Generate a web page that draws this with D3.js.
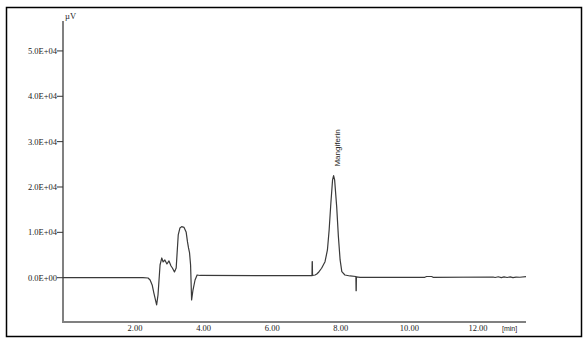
<!DOCTYPE html>
<html>
<head>
<meta charset="utf-8">
<script src="https://cdn.jsdelivr.net/npm/d3@7"></script>
<style>
  body { margin: 0; background: #fff; }
</style>
</head>
<body>
<div id="chart"></div>
<script>
// retention time (min) and detector signal (µV)
const times = [
  -0.1, 2.23, 2.38, 2.44, 2.50, 2.55, 2.63, 2.67, 2.73, 2.78, 2.82, 2.87, 2.93, 2.99,
  3.05, 3.09, 3.15, 3.20, 3.26, 3.31, 3.36, 3.43, 3.49, 3.53, 3.56, 3.59, 3.62, 3.65,
  3.69, 3.75, 3.81, 3.90, 7.16, 7.165, 7.17, 7.175, 7.25, 7.30, 7.36, 7.44, 7.54, 7.61,
  7.66, 7.71, 7.76, 7.79, 7.82, 7.88, 7.93, 7.98, 8.03, 8.12, 8.27, 8.44, 8.445, 8.45,
  8.455, 8.56, 10.45, 10.50, 10.65, 10.69, 12.44, 12.50, 12.59, 12.68, 12.76, 12.85,
  12.94, 13.02, 13.11, 13.22, 13.40
];
const signal = [
  0, 0, -70, -510, -1610, -3380, -6000, -3820, 2800, 4350, 3470, 3900, 3020, 3690,
  2580, 2140, 1260, 2140, 9430, 10970, 11260, 11080, 10090, 7880, 6560, 5450, 2800, -4920,
  -2720, -510, 600, 490, 440, 3530, 3530, 500, 600, 820, 1260, 2080, 3530, 6110,
  10530, 16420, 21570, 22520, 21570, 15670, 9050, 3910, 1320, 600, 380, 260, -2870, -2870,
  200, 90, 90, 260, 260, 90, 150, 40, 200, 20, 180, 40, 170,
  30, 140, 100, 220
];
const yTicks = [0, 10000, 20000, 30000, 40000, 50000];
const yTickLabels = ["0.0E+00", "1.0E+04", "2.0E+04", "3.0E+04", "4.0E+04", "5.0E+04"];
const xTicks = [2, 4, 6, 8, 10, 12];
const xTickLabels = ["2.00", "4.00", "6.00", "8.00", "10.00", "12.00"];
const peakName = "Mangiferin";
const peakTime = 7.79;
const peakValue = 22520;

const width = 587, height = 345;
const svg = d3.select("#chart").append("svg")
  .attr("width", width)
  .attr("height", height);

// outer frame
svg.append("rect")
  .attr("x", 6.5).attr("y", 7.5)
  .attr("width", 575).attr("height", 329)
  .attr("fill", "none")
  .attr("stroke", "#000")
  .attr("stroke-width", 1.5);

const x = d3.scaleLinear().domain([-0.1, 13.4]).range([63, 526]);
const y = d3.scaleLinear().domain([-9770, 56600]).range([322, 21]);

const tickFont = "'Liberation Serif', 'DejaVu Serif', serif";
const sansFont = "'Liberation Sans', Arial, sans-serif";

// y axis
svg.append("line")
  .attr("x1", x(-0.1)).attr("x2", x(-0.1))
  .attr("y1", y(56600)).attr("y2", y(-9770))
  .attr("stroke", "#808080").attr("stroke-width", 2);

svg.append("g").selectAll("line")
  .data(yTicks)
  .join("line")
  .attr("x1", 57).attr("x2", 63)
  .attr("y1", d => y(d)).attr("y2", d => y(d))
  .attr("stroke", "#333").attr("stroke-width", 1);

svg.append("g").selectAll("text")
  .data(yTicks)
  .join("text")
  .attr("x", 57)
  .attr("y", d => y(d) + 3)
  .attr("text-anchor", "end")
  .style("font-family", tickFont)
  .style("font-size", "8.5px")
  .style("fill", "#222")
  .text((d, i) => yTickLabels[i]);

svg.append("text")
  .attr("x", 65).attr("y", 19)
  .style("font-family", tickFont)
  .style("font-size", "8.5px")
  .style("fill", "#222")
  .text("µV");

// x axis
svg.append("line")
  .attr("x1", x(-0.1) - 1).attr("x2", x(13.4))
  .attr("y1", y(-9770)).attr("y2", y(-9770))
  .attr("stroke", "#808080").attr("stroke-width", 2);

svg.append("g").selectAll("text")
  .data(xTicks)
  .join("text")
  .attr("x", d => x(d))
  .attr("y", 331)
  .attr("text-anchor", "middle")
  .style("font-family", tickFont)
  .style("font-size", "8.5px")
  .style("fill", "#222")
  .text((d, i) => xTickLabels[i]);

svg.append("text")
  .attr("x", 502).attr("y", 331)
  .style("font-family", sansFont)
  .style("font-size", "7px")
  .style("fill", "#222")
  .text("[min]");

// trace
const line = d3.line()
  .x(d => x(d[0]))
  .y(d => y(d[1]));

svg.append("path")
  .datum(d3.zip(times, signal))
  .attr("d", line)
  .attr("fill", "none")
  .attr("stroke", "#3a3a3a")
  .attr("stroke-width", 1.2)
  .attr("stroke-linejoin", "round");

// peak label
svg.append("text")
  .attr("transform", `translate(${x(peakTime) + 6}, ${y(peakValue) - 9}) rotate(-90)`)
  .style("font-family", sansFont)
  .style("font-size", "8px")
  .style("fill", "#222")
  .text(peakName);
</script>
</body>
</html>
